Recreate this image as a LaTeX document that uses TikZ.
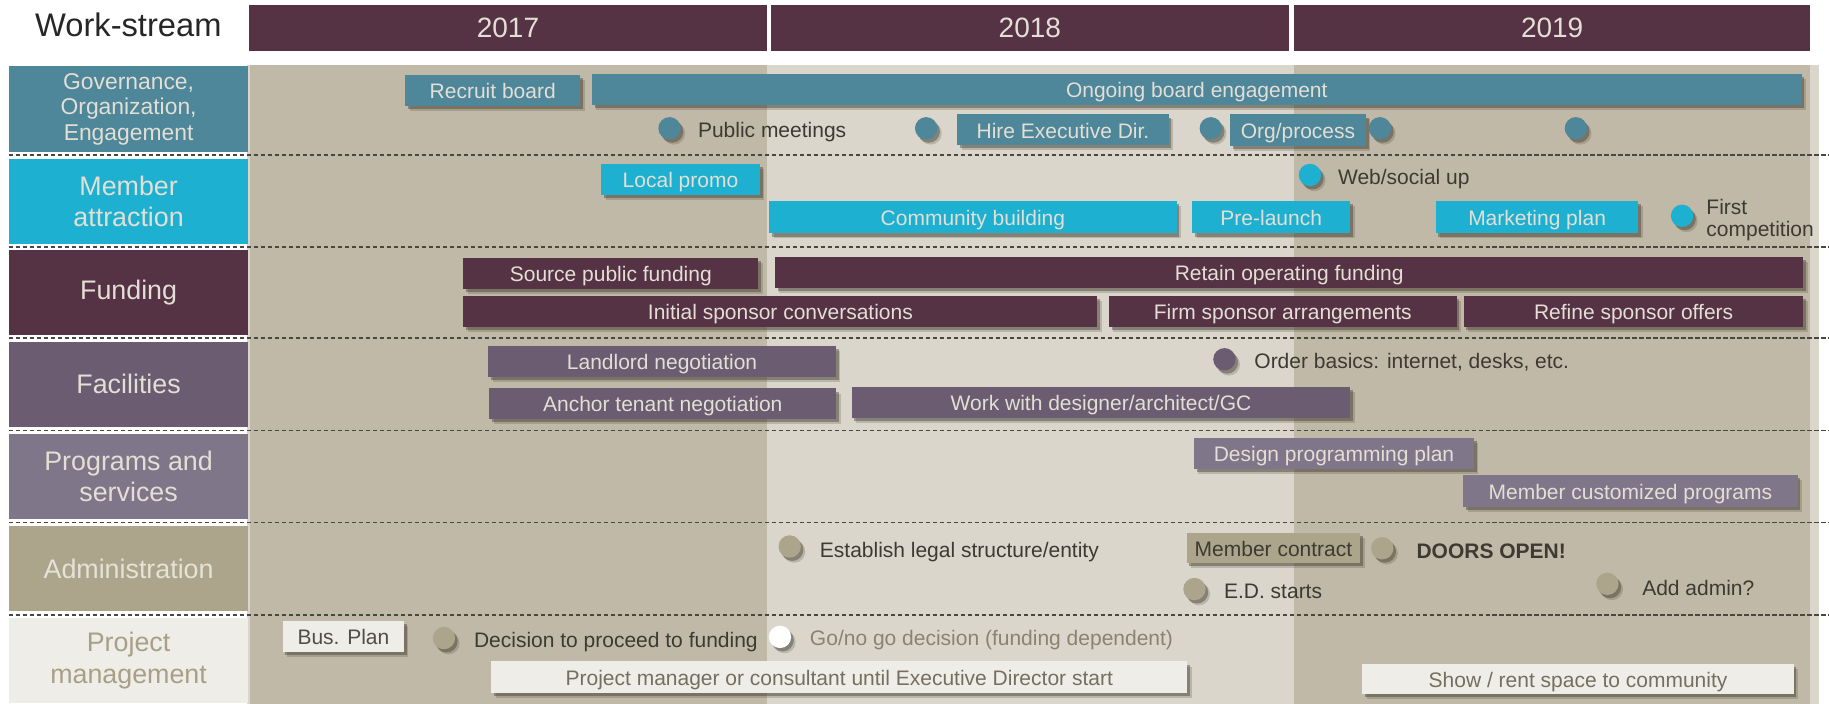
\documentclass[tikz,border=0pt]{standalone}
\usepackage{fontspec}
\setmainfont{Liberation Sans}
\usetikzlibrary{shadows,shapes.geometric}

\definecolor{maroon}{HTML}{553345}
\definecolor{govc}{HTML}{4E869A}
\definecolor{memc}{HTML}{1DB0D1}
\definecolor{facc}{HTML}{6B5C71}
\definecolor{prgc}{HTML}{807689}
\definecolor{admc}{HTML}{ADA58B}
\definecolor{pmc}{HTML}{EFEDE8}
\definecolor{bgdark}{HTML}{C0B9A7}
\definecolor{bglight}{HTML}{DAD6CB}
\definecolor{lighttext}{HTML}{E3DFD4}
\definecolor{darktext}{HTML}{3C3A32}
\definecolor{greytext}{HTML}{8A8371}
\definecolor{pmtext}{HTML}{A89F86}
\definecolor{shadowc}{HTML}{3A3428}
\definecolor{sepc}{HTML}{4A4640}

\tikzset{
  softshadow/.style={
    general shadow={shadow xshift=1.1pt, shadow yshift=-1.4pt, fill=shadowc, opacity=.4},
    general shadow={shadow xshift=1.9pt, shadow yshift=-2.2pt, fill=shadowc, opacity=.2}},
  taskbox/.style={rectangle, inner sep=0pt, text height=0.72em, text depth=0pt,
    font=\fontsize{9}{10}\selectfont, text=lighttext, softshadow},
  govbox/.style={taskbox, fill=govc},
  membox/.style={taskbox, fill=memc},
  funbox/.style={taskbox, fill=maroon},
  facbox/.style={taskbox, fill=facc},
  prgbox/.style={taskbox, fill=prgc},
  admbox/.style={taskbox, fill=admc, text=darktext},
  pmbox/.style={taskbox, fill=pmc, text=greytext!85!black},
  milestone/.style={circle, minimum size=9.6pt, inner sep=0pt, softshadow},
  notetext/.style={inner sep=0pt, anchor=west, text height=0.72em, text depth=0pt,
    font=\fontsize{9}{10}\selectfont, text=darktext},
  lanebox/.style={rectangle, inner sep=0pt, minimum width=102.75pt, minimum height=36.5pt,
    align=center, font=\fontsize{11.5}{13.5}\selectfont, text=lighttext},
  yearbar/.style={rectangle, inner sep=0pt, fill=maroon, minimum height=20pt,
    font=\fontsize{12}{14}\selectfont, text=lighttext},
  separator/.style={sepc, line width=0.7pt, dash pattern=on 2pt off 1pt},
}

% task bar from (x1,y1) to (x2,y2)
\newcommand\task[7]{%
  \node[#2, minimum width={(#5-#3)*0.5pt}, minimum height={(#6-#4)*0.5pt}]
    (#1) at ({(#3+#5)/2},{(#4+#6)/2}) {#7};}
% milestone dot
\newcommand\mstone[4]{\node[milestone, fill=#2] (#1) at (#3,#4) {};}
% free text beside a milestone
\newcommand\mnote[5][]{\node[notetext,#1] (#2) at (#3,#4) {#5};}
% work-stream label cell (top edge given)
\newcommand\lane[6][]{\node[lanebox, fill=#4, text=#5, #1] (#2) at (110.25,#3+36.5) {#6};}

\begin{document}
\begin{tikzpicture}[x=0.5pt,y=-0.5pt]
\useasboundingbox (0,0) rectangle (1568,603.5);

% timeline background: light 2018 column between darker 2017 and 2019
\fill[bglight] (212,56) rectangle (1559,603.5);
\fill[bgdark] (214.5,56) rectangle (657.4,603.5);
\fill[bgdark] (1109,56) rectangle (1552,603.5);

% header
\node[font=\fontsize{14}{16}\selectfont, text=black!85, inner sep=0pt] (ws) at (110,21) {Work-stream};
\node[yearbar, minimum width={(657.4-213.6)*0.5pt}] (y17) at ({(213.6+657.4)/2},24) {2017};
\node[yearbar, minimum width={(1105-660.8)*0.5pt}] (y18) at ({(660.8+1105)/2},24) {2018};
\node[yearbar, minimum width={(1552-1109.3)*0.5pt}] (y19) at ({(1109.3+1552)/2},24) {2019};

% work-stream labels
\lane[font=\fontsize{9.8}{11}\selectfont]{lgov}{57}{govc}{lighttext}{Governance,\\Organization,\\Engagement}
\lane{lmem}{136}{memc}{lighttext}{Member\\attraction}
\lane{lfun}{214.5}{maroon}{lighttext}{Funding}
\lane{lfac}{293}{facc}{lighttext}{Facilities}
\lane{lprg}{372}{prgc}{lighttext}{Programs and\\services}
\lane{ladm}{451}{admc}{lighttext!92!white}{Administration}
\lane{lpm}{530}{pmc}{pmtext}{Project\\management}

% lane separators
\foreach \yy in {133,211.5,290,369,448,527}
  \draw[separator] (7.5,\yy) -- (1568,\yy);

% Governance, Organization, Engagement
\task{recruit}{govbox}{347.5}{64.3}{497.3}{91}{Recruit board}
\task{ongoing}{govbox}{507.5}{63.5}{1544.5}{90}{Ongoing board engagement}
\mstone{gd1}{govc}{574}{110}
\mnote{pubmeet}{598}{111}{Public meetings}
\mstone{gd2}{govc}{794}{110}
\task{hire}{govbox}{820.5}{98}{1002}{124.5}{Hire Executive Dir.}
\mstone{gd3}{govc}{1038}{110}
\task{orgproc}{govbox}{1054.5}{98}{1171}{125}{Org/process}
\mstone{gd4}{govc}{1183}{110}
\mstone{gd5}{govc}{1351}{110}

% Member attraction
\task{localpromo}{membox}{515.3}{140.6}{651.5}{167.2}{Local promo}
\task{community}{membox}{659.5}{172.3}{1008.6}{200}{Community building}
\task{prelaunch}{membox}{1022}{172.3}{1157.6}{200}{Pre-launch}
\task{marketing}{membox}{1231}{172.3}{1404.5}{200}{Marketing plan}
\mstone{md1}{memc}{1123}{150}
\mnote{websocial}{1146.7}{150.6}{Web/social up}
\mstone{md2}{memc}{1442}{185}
\node[inner sep=0pt, anchor=north west, align=left, font=\fontsize{9}{9.5}\selectfont,
  text=darktext] (firstcomp) at (1462.5,170.5) {First\\competition};

% Funding
\task{sourcepub}{funbox}{397.3}{221}{650}{247.5}{Source public funding}
\task{retain}{funbox}{664.4}{220.5}{1546}{246.8}{Retain operating funding}
\task{initial}{funbox}{397.3}{253.7}{940.8}{280.4}{Initial sponsor conversations}
\task{firm}{funbox}{950.7}{253.7}{1248.8}{280}{Firm sponsor arrangements}
\task{refine}{funbox}{1255}{253.7}{1546}{280}{Refine sponsor offers}

% Facilities
\task{landlord}{facbox}{418.5}{296.6}{716.7}{323}{Landlord negotiation}
\task{anchortn}{facbox}{419.6}{333}{716.8}{359}{Anchor tenant negotiation}
\task{designer}{facbox}{730.3}{331.5}{1157.5}{358}{Work with designer/architect/GC}
\mstone{fd1}{facc}{1049.7}{308}
\mnote{orderbasics}{1075}{308.5}{Order basics: internet, desks, etc.}

% Programs and services
\task{designprog}{prgbox}{1023.6}{375.5}{1263.6}{402}{Design programming plan}
\task{custprog}{prgbox}{1254.5}{407}{1541}{434.4}{Member customized programs}

% Administration
\mstone{ad1}{admc}{677}{468.5}
\mnote{legal}{702.5}{470.5}{Establish legal structure/entity}
\task{contract}{admbox}{1017.5}{457}{1166}{482.6}{Member contract}
\mstone{ad2}{admc}{1185}{470}
\mnote[font=\fontsize{9}{10}\selectfont\bfseries]{doors}{1214}{472}{DOORS OPEN!}
\mstone{ad3}{admc}{1024}{505}
\mnote{edstarts}{1049}{505.5}{E.D. starts}
\mstone{ad4}{admc}{1378}{500.5}
\mnote{addadmin}{1407.5}{503.5}{Add admin?}

% Project management
\task{busplan}{pmbox, text=darktext!90}{242.4}{532.4}{346.4}{558.7}{Bus. Plan}
\mstone{pd1}{admc}{380.6}{547}
\mnote{decision}{406}{548}{Decision to proceed to funding}
\mstone{pd2}{white}{668.7}{546}
\mnote[text=greytext]{gonogo}{694}{546}{Go/no go decision (funding dependent)}
\task{pmconsult}{pmbox}{421}{567}{1018}{594}{Project manager or consultant until Executive Director start}
\task{showrent}{pmbox}{1168}{569}{1537.7}{595}{Show / rent space to community}
\end{tikzpicture}
\end{document}
